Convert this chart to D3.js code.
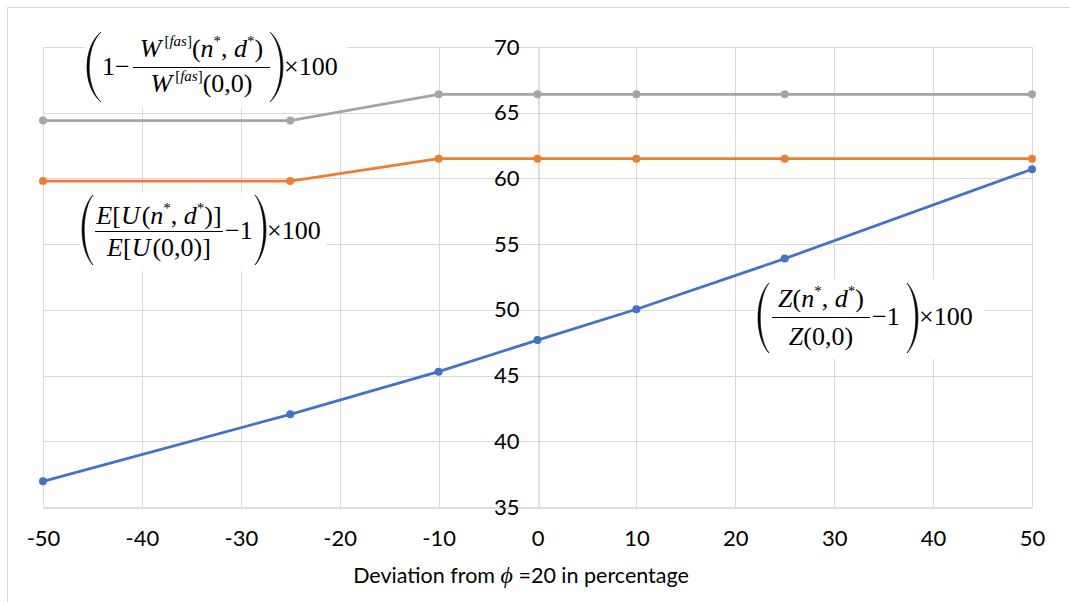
<!DOCTYPE html>
<html>
<head>
<meta charset="utf-8">
<script src="https://cdn.jsdelivr.net/npm/d3@7"></script>
<style>
  body { margin: 0; background: #fff; }
  svg { display: block; }
  .tick text { font-family: Lato, "Open Sans", sans-serif; font-size: 22px; fill: #000; }
  .eq text { font-family: "Liberation Serif", "Times New Roman", serif; font-size: 26px; fill: #000; }
</style>
</head>
<body>
<svg id="chart" width="1070" height="602"></svg>
<script>
// data
var deviation = [-50, -25, -10, 0, 10, 25, 50];
var welfareGain = [64.4, 64.4, 66.4, 66.4, 66.4, 66.4, 66.4];   // gray
var utilityGain = [59.8, 59.8, 61.5, 61.5, 61.5, 61.5, 61.5];   // orange
var outputGain = [36.95, 42.05, 45.3, 47.7, 50.05, 53.9, 60.7]; // blue
var xTicks = [-50, -40, -30, -20, -10, 0, 10, 20, 30, 40, 50];
var yTicks = [35, 40, 45, 50, 55, 60, 65, 70];

var svg = d3.select('#chart');

var xScale = d3.scaleLinear().domain([-50, 50]).range([43, 1032]);
var yScale = d3.scaleLinear().domain([35, 70]).range([507, 47]);

// outer frame
svg.append('rect')
    .attr('x', 7.5).attr('y', 7.5)
    .attr('width', 1080).attr('height', 620)
    .attr('fill', 'none')
    .attr('stroke', '#d9d9d9')
    .attr('stroke-width', 1)

// gridlines
svg.append('g').selectAll('line.h')
    .data(yTicks.slice(1))
    .enter().append('line')
    .attr('x1', xScale(-50)).attr('x2', xScale(50))
    .attr('y1', function(d) { return Math.round(yScale(d)) + 0.5; })
    .attr('y2', function(d) { return Math.round(yScale(d)) + 0.5; })
    .attr('stroke', '#d9d9d9')

svg.append('g').selectAll('line.v')
    .data(xTicks.filter(function(d) { return d !== 0; }))
    .enter().append('line')
    .attr('y1', yScale(70)).attr('y2', yScale(35))
    .attr('x1', function(d) { return Math.round(xScale(d)) + 0.5; })
    .attr('x2', function(d) { return Math.round(xScale(d)) + 0.5; })
    .attr('stroke', '#d9d9d9')

// white boxes behind the formulas
var boxes = [
    [85, 26, 262, 82],
    [80, 193, 246, 78],
    [755, 279, 230, 80]
];
svg.append('g').selectAll('rect')
    .data(boxes)
    .enter().append('rect')
    .attr('x', function(d) { return d[0]; })
    .attr('y', function(d) { return d[1]; })
    .attr('width', function(d) { return d[2]; })
    .attr('height', function(d) { return d[3]; })
    .attr('fill', '#fff')

// axes
var plain = function(d) { return String(d); };
var xAxis = d3.axisBottom(xScale).tickValues(xTicks).tickFormat(plain).tickSize(0).tickPadding(23).tickSizeOuter(0);
var yAxis = d3.axisLeft(yScale).tickValues(yTicks).tickFormat(plain).tickSize(0).tickPadding(19).tickSizeOuter(0);

var gx = svg.append('g')
    .attr('transform', 'translate(0,' + (Math.round(yScale(35)) + 0.5) + ')')
    .call(xAxis)
gx.select('.domain').attr('stroke', '#bfbfbf')

var gy = svg.append('g')
    .attr('transform', 'translate(' + (Math.round(xScale(0)) + 0.5) + ',0)')
    .call(yAxis)
gy.select('.domain').attr('stroke', '#bfbfbf')

// series
var series = [
    { name: 'welfare', values: welfareGain, color: '#a5a5a5' },
    { name: 'utility', values: utilityGain, color: '#ed7d31' },
    { name: 'output', values: outputGain, color: '#4472c4' }
];

var line = d3.line()
    .x(function(d) { return xScale(d[0]); })
    .y(function(d) { return yScale(d[1]); })

series.forEach(function(s) {
    var pts = deviation.map(function(x, i) { return [x, s.values[i]]; });
    var g = svg.append('g').attr('class', 'series-' + s.name);
    g.append('path')
        .attr('d', line(pts))
        .attr('fill', 'none')
        .attr('stroke', s.color)
        .attr('stroke-width', 2.75)
        .attr('stroke-linejoin', 'round')
    g.selectAll('circle')
        .data(pts)
        .enter().append('circle')
        .attr('cx', function(d) { return xScale(d[0]); })
        .attr('cy', function(d) { return yScale(d[1]); })
        .attr('r', 4)
        .attr('fill', s.color)
})

// axis title
var title = svg.append('text')
    .attr('x', 521).attr('y', 583)
    .attr('text-anchor', 'middle')
    .style('font-family', 'Lato, "Open Sans", sans-serif')
    .style('font-size', '21.5px')
title.append('tspan').text('Deviation from ')
title.append('tspan').text('\u03d5')
    .style('font-family', '"Liberation Serif", serif')
    .style('font-style', 'italic')
    .style('font-size', '24px')
title.append('tspan').text(' =20 in percentage')

// ---- formulas ----
// parts: [text, kind, dx]  kind: '' upright, 'i' italic, 's' superscript, 'si' italic superscript
function writeParts(t, parts) {
    var up = false;
    parts.forEach(function(p) {
        var kind = p[1] || '';
        var sup = kind.indexOf('s') >= 0;
        var ts = t.append('tspan').text(p[0]);
        if (kind.indexOf('i') >= 0) ts.style('font-style', 'italic');
        if (sup) ts.style('font-size', '15px');
        if (sup && !up) ts.attr('dy', -11);
        if (!sup && up) ts.attr('dy', 11);
        if (p[2]) ts.attr('dx', p[2]);
        up = sup;
    })
}

function paren(g, x0, x1, y0, y1, left) {
    // stretched bracket as a crescent
    var h = y1 - y0, t = 2.2;
    var xe = left ? x1 : x0;       // ends
    var xm = left ? x0 : x1;       // belly
    var c1 = (8 * xm - 2 * xe) / 6;
    var c2 = (8 * (xm + (left ? t : -t)) - 2 * xe) / 6;
    var d = 'M' + xe + ',' + y0 +
        ' C' + c1 + ',' + (y0 + h * 0.22) + ' ' + c1 + ',' + (y1 - h * 0.22) + ' ' + xe + ',' + y1 +
        ' C' + c2 + ',' + (y1 - h * 0.22) + ' ' + c2 + ',' + (y0 + h * 0.22) + ' ' + xe + ',' + y0 + 'Z';
    g.append('path').attr('d', d).attr('fill', '#000').attr('stroke', '#000').attr('stroke-width', 0.6)
}

function formula(eq) {
    var g = svg.append('g').attr('class', 'eq');
    paren(g, eq.pl[0], eq.pl[1], eq.py[0], eq.py[1], true);
    paren(g, eq.pr[0], eq.pr[1], eq.py[0], eq.py[1], false);
    g.append('line')
        .attr('x1', eq.bar[0]).attr('x2', eq.bar[1])
        .attr('y1', eq.bar[2]).attr('y2', eq.bar[2])
        .attr('stroke', '#000').attr('stroke-width', 1.1)
    var cx = (eq.bar[0] + eq.bar[1]) / 2;
    writeParts(g.append('text').attr('x', cx).attr('y', eq.numY).attr('text-anchor', 'middle'), eq.num);
    writeParts(g.append('text').attr('x', cx).attr('y', eq.denY).attr('text-anchor', 'middle'), eq.den);
    eq.extra.forEach(function(e) {
        writeParts(g.append('text').attr('x', e.x).attr('y', e.y), e.parts);
    })
}

var minus = '\u2212';

formula({
    pl: [87, 101], pr: [270, 283], py: [32, 102],
    bar: [133, 270, 67.5],
    numY: 57, denY: 92,
    num: [['W', 'i'], ['[', 's', 3], ['fas', 'si'], [']', 's'], ['('], ['n', 'i'], ['*', 's'], [', '], ['d', 'i'], ['*', 's'], [')']],
    den: [['W', 'i'], ['[', 's', 3], ['fas', 'si'], [']', 's'], ['(0,0)']],
    extra: [
        { x: 102, y: 75, parts: [['1' + minus]] },
        { x: 284, y: 75, parts: [['\u00d7100']] }
    ]
})

formula({
    pl: [82, 93], pr: [255, 266], py: [195, 265],
    bar: [95, 223, 231.5],
    numY: 224, denY: 256,
    num: [['E', 'i'], ['['], ['U', 'i'], ['(', '', 2], ['n', 'i'], ['*', 's'], [', '], ['d', 'i'], ['*', 's'], [')]']],
    den: [['E', 'i'], ['['], ['U', 'i'], ['(0,0)]', '', 2]],
    extra: [
        { x: 225, y: 239, parts: [[minus + '1']] },
        { x: 267, y: 239, parts: [['\u00d7100']] }
    ]
})

formula({
    pl: [758, 769], pr: [907, 918], py: [283, 353],
    bar: [772, 870, 317.5],
    numY: 307, denY: 345,
    num: [['Z', 'i'], ['('], ['n', 'i'], ['*', 's'], [', '], ['d', 'i'], ['*', 's'], [')']],
    den: [['Z', 'i'], ['(0,0)']],
    extra: [
        { x: 872, y: 325, parts: [[minus + '1']] },
        { x: 919, y: 325, parts: [['\u00d7100']] }
    ]
})
</script>
</body>
</html>
